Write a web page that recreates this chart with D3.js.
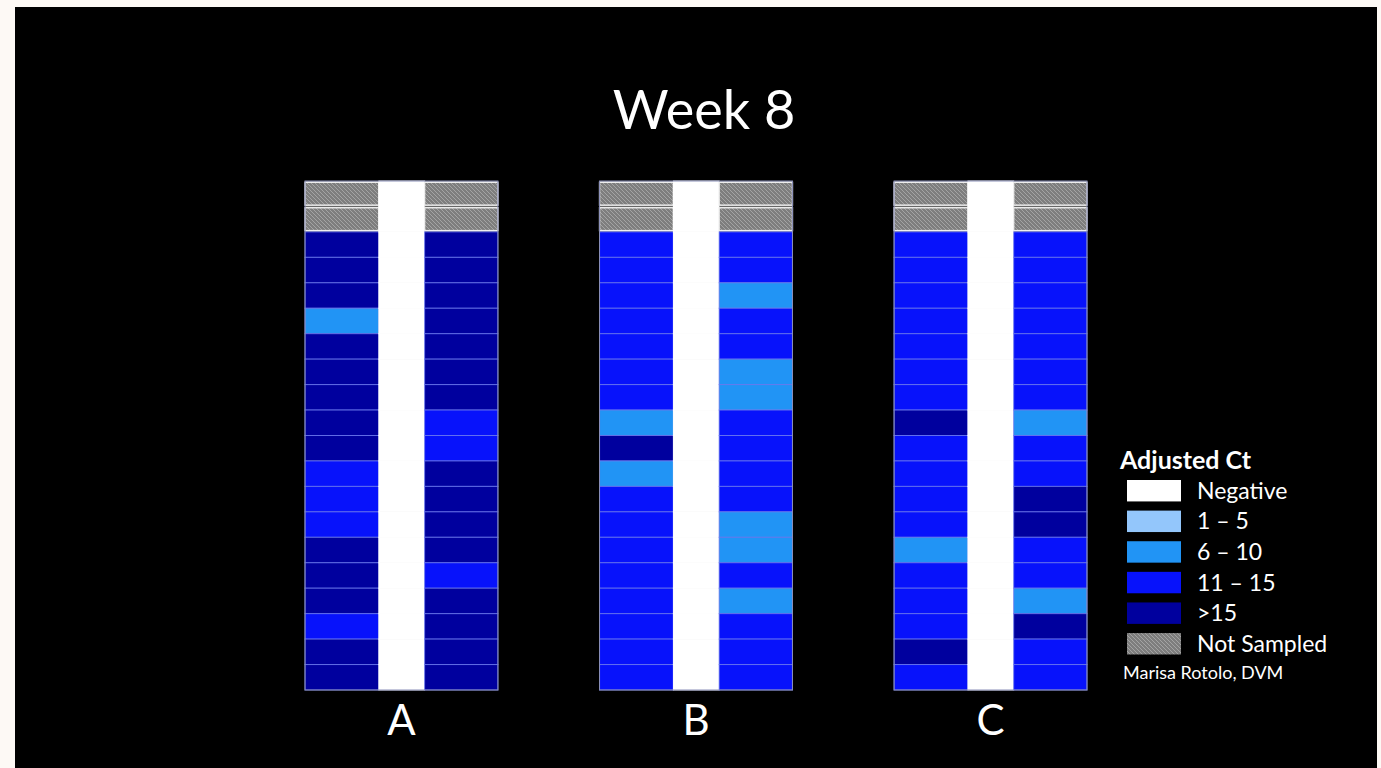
<!DOCTYPE html>
<html>
<head>
<meta charset="utf-8">
<script src="https://cdn.jsdelivr.net/npm/d3@7"></script>
<style>
  html, body { margin: 0; padding: 0; background: #fdf9f5; }
  svg { display: block; }
</style>
</head>
<body>
<script>
// ---------- DATA ----------
const title = "Week 8";
const groups = ["A", "B", "C"];
const subColumns = ["left", "middle", "right"];
// codes: N = Not Sampled, 0 = Negative, 1 = 1–5, 2 = 6–10, 3 = 11–15, 4 = >15
const groupA_left  = ["N","N","4","4","4","2","4","4","4","4","4","3","3","3","4","4","4","3","4","4"];
const groupA_right = ["N","N","4","4","4","4","4","4","4","3","3","4","4","4","4","3","4","4","4","4"];
const groupB_left  = ["N","N","3","3","3","3","3","3","3","2","4","2","3","3","3","3","3","3","3","3"];
const groupB_right = ["N","N","3","3","2","3","3","2","2","3","3","3","3","2","2","3","2","3","3","3"];
const groupC_left  = ["N","N","3","3","3","3","3","3","3","4","3","3","3","3","2","3","3","3","4","3"];
const groupC_right = ["N","N","3","3","3","3","3","3","3","2","3","3","4","4","3","3","2","4","3","3"];
const middleColumn = ["0","0","0","0","0","0","0","0","0","0","0","0","0","0","0","0","0","0","0","0"];
const legendTitle = "Adjusted Ct";
const legendCodes  = ["0", "1", "2", "3", "4", "N"];
const legendLabels = ["Negative", "1 \u2013 5", "6 \u2013 10", "11 \u2013 15", ">15", "Not Sampled"];
const credit = "Marisa Rotolo, DVM";

const columnsByGroup = {
  A: [groupA_left, middleColumn, groupA_right],
  B: [groupB_left, middleColumn, groupB_right],
  C: [groupC_left, middleColumn, groupC_right]
};

// ---------- LAYOUT ----------
const W = 1381, H = 768;
const FONT = "Lato, 'Open Sans', sans-serif";
const svg = d3.select("body").append("svg").attr("width", W).attr("height", H);

const defs = svg.append("defs");
const pat = defs.append("pattern").attr("id", "hatch")
  .attr("patternUnits", "userSpaceOnUse").attr("width", 4).attr("height", 4);
pat.append("rect").attr("width", 4).attr("height", 4).attr("fill", "#7e7e7e");
pat.append("path").attr("d", "M-1,-1 L5,5 M-1,3 L1,5 M3,-1 L5,1")
  .attr("stroke", "#a4a4a4").attr("stroke-width", 1);

// black slide
svg.append("rect").attr("x", 15).attr("y", 7).attr("width", 1362).attr("height", H - 7).attr("fill", "#000");

const color = d3.scaleOrdinal()
  .domain(["0", "1", "2", "3", "4", "N"])
  .range(["#ffffff", "#93c6fb", "#2194f5", "#0712fb", "#00009e", "url(#hatch)"]);

const nRows = groupA_left.length;
const y = d3.scaleBand().domain(d3.range(nRows)).range([181, 690]).paddingInner(0).paddingOuter(0);
const gx = d3.scaleBand().domain(groups).range([305, 1087]).paddingInner(0.345).paddingOuter(0);
// sub-column split within a group (fractions of group width)
const subX = d3.scaleOrdinal().domain(subColumns).range([0, 0.383, 0.62]);
const subW = d3.scaleOrdinal().domain(subColumns).range([0.383, 0.237, 0.38]);

// title
svg.append("text").attr("x", 704).attr("y", 129).attr("text-anchor", "middle")
  .attr("font-family", FONT).attr("font-size", 54)
  .attr("fill", "#fff").text(title);

groups.forEach(g => {
  const G = svg.append("g");
  const gw = gx.bandwidth();
  subColumns.forEach((sc, ci) => {
    const vals = columnsByGroup[g][ci];
    const x0 = gx(g) + subX(sc) * gw;
    const w = subW(sc) * gw;
    const cells = vals.map((v, r) => ({ v, r }));
    // grey underlay for not-sampled rows (gap between double lines)
    G.selectAll(null).data(cells.filter(d => d.v === "N")).enter().append("rect")
      .attr("x", x0).attr("y", d => y(d.r)).attr("width", w).attr("height", y.bandwidth())
      .attr("fill", "#8a8a8a");
    G.selectAll(null).data(cells).enter().append("rect")
      .attr("x", x0)
      .attr("y", d => d.v === "N" ? y(d.r) + 1.3 : y(d.r))
      .attr("width", w)
      .attr("height", d => d.v === "N" ? y.bandwidth() - 2.6 : y.bandwidth())
      .attr("fill", d => color(d.v))
      .attr("stroke", d => d.v === "N" ? "#eeeeee" : (d.v === "0" ? "#ffffff" : "#6e7cf2"))
      .attr("stroke-opacity", d => d.v === "N" || d.v === "0" ? 1 : 0.8)
      .attr("stroke-width", d => d.v === "N" ? 1.4 : 1);
  });
  // outer frame
  G.append("rect").attr("x", gx(g)).attr("y", y.range()[0]).attr("width", gw)
    .attr("height", y.range()[1] - y.range()[0])
    .attr("fill", "none").attr("stroke", "#8a8fb8").attr("stroke-width", 1);
  // group label
  svg.append("text").attr("x", gx(g) + gw / 2).attr("y", 735).attr("text-anchor", "middle")
    .attr("font-family", FONT).attr("font-size", 42)
    .attr("fill", "#fff").text(g);
});

// legend
const L = svg.append("g");
L.append("text").attr("x", 1120).attr("y", 469)
  .attr("font-family", FONT).attr("font-weight", "bold").attr("font-size", 25)
  .attr("fill", "#fff").text(legendTitle);
const ly = d3.scaleBand().domain(d3.range(legendCodes.length)).range([480, 654.5]).paddingInner(0.3);
legendCodes.forEach((c, i) => {
  L.append("rect").attr("x", 1127).attr("y", ly(i)).attr("width", 54).attr("height", ly.bandwidth())
    .attr("fill", color(c));
  L.append("text").attr("x", 1197).attr("y", ly(i) + ly.bandwidth() / 2 + 8)
    .attr("font-family", FONT).attr("font-size", 23)
    .attr("fill", "#fff").text(legendLabels[i]);
});
L.append("text").attr("x", 1123).attr("y", 679)
  .attr("font-family", FONT).attr("font-size", 18)
  .attr("fill", "#fff").text(credit);
</script>
</body>
</html>
